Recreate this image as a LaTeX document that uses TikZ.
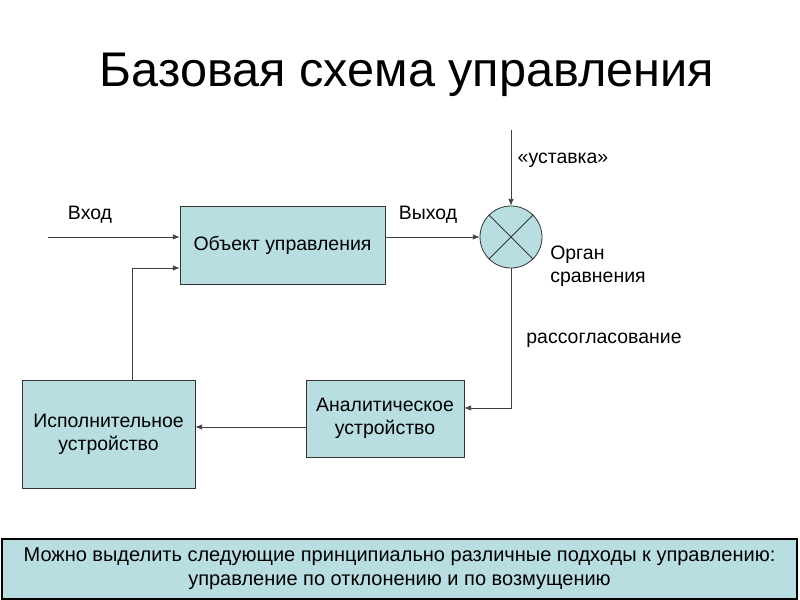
\documentclass[tikz,border=0pt]{standalone}
\usepackage{fontspec}
\setmainfont{Liberation Sans}
\usetikzlibrary{arrows.meta}
\definecolor{boxfill}{HTML}{B9DEE2}
\begin{document}
\begin{tikzpicture}[x=0.75pt,y=-0.75pt,
  blk/.style={draw=black!80,fill=boxfill,line width=0.6pt,inner sep=0pt,align=center,font=\fontsize{14.6}{17.5}\selectfont},
  lbl/.style={font=\fontsize{14.6}{17.5}\selectfont,inner sep=0pt,align=left},
  arr/.style={draw=black!75,line width=0.5pt,-{Latex[length=5pt,width=4pt]}}]
\useasboundingbox (0,0) rectangle (800,600);
\node[font=\fontsize{36.5}{40}\selectfont] (title) at (407,75) {Базовая схема управления};
\node[blk,minimum width=205*0.75pt,minimum height=78*0.75pt] (obj) at (282.5,245) {Объект управления};
\node[draw=black!80,fill=boxfill,line width=0.6pt,circle,minimum size=62*0.75pt,inner sep=0pt] (cmp) at (511,237) {};
\draw[black!80,line width=0.6pt] (cmp.north west) -- (cmp.south east) (cmp.north east) -- (cmp.south west);
\node[blk,minimum width=158*0.75pt,minimum height=77*0.75pt] (an) at (385,418.5) {Аналитическое\\устройство};
\node[blk,minimum width=173*0.75pt,minimum height=108*0.75pt] (isp) at (108.5,434) {Исполнительное\\устройство};
\node[draw=black,fill=boxfill,line width=0.8pt,minimum width=795*0.75pt,minimum height=60*0.75pt,inner sep=0pt,align=center,font=\fontsize{15}{18}\selectfont] (note) at (399.5,569) {Можно выделить следующие принципиально различные подходы к управлению:\\управление по отклонению и по возмущению};
\node[lbl] (vh) at (90,215) {Вход};
\node[lbl] (vyh) at (428,215) {Выход};
\node[lbl] (ust) at (563,160) {«уставка»};
\node[lbl,anchor=west] (org) at (550,266) {Орган\\сравнения};
\node[lbl] (ras) at (604,340) {рассогласование};
\coordinate (in) at (48,237);
\coordinate (top) at (511,130);
\coordinate (c1) at (511,408);
\coordinate (c2) at (132,268);
\draw[arr] (in) -- (obj.west |- in);
\draw[arr] (obj.east |- cmp) -- (cmp.west);
\draw[arr] (top) -- (cmp.north);
\draw[arr] (cmp.south) -- (c1) -- (an.east |- c1);
\draw[arr] (an.west |- 0,427) -- (isp.east |- 0,427);
\draw[arr] (isp.north -| c2) -- (c2) -- (obj.west |- c2);
\end{tikzpicture}
\end{document}
